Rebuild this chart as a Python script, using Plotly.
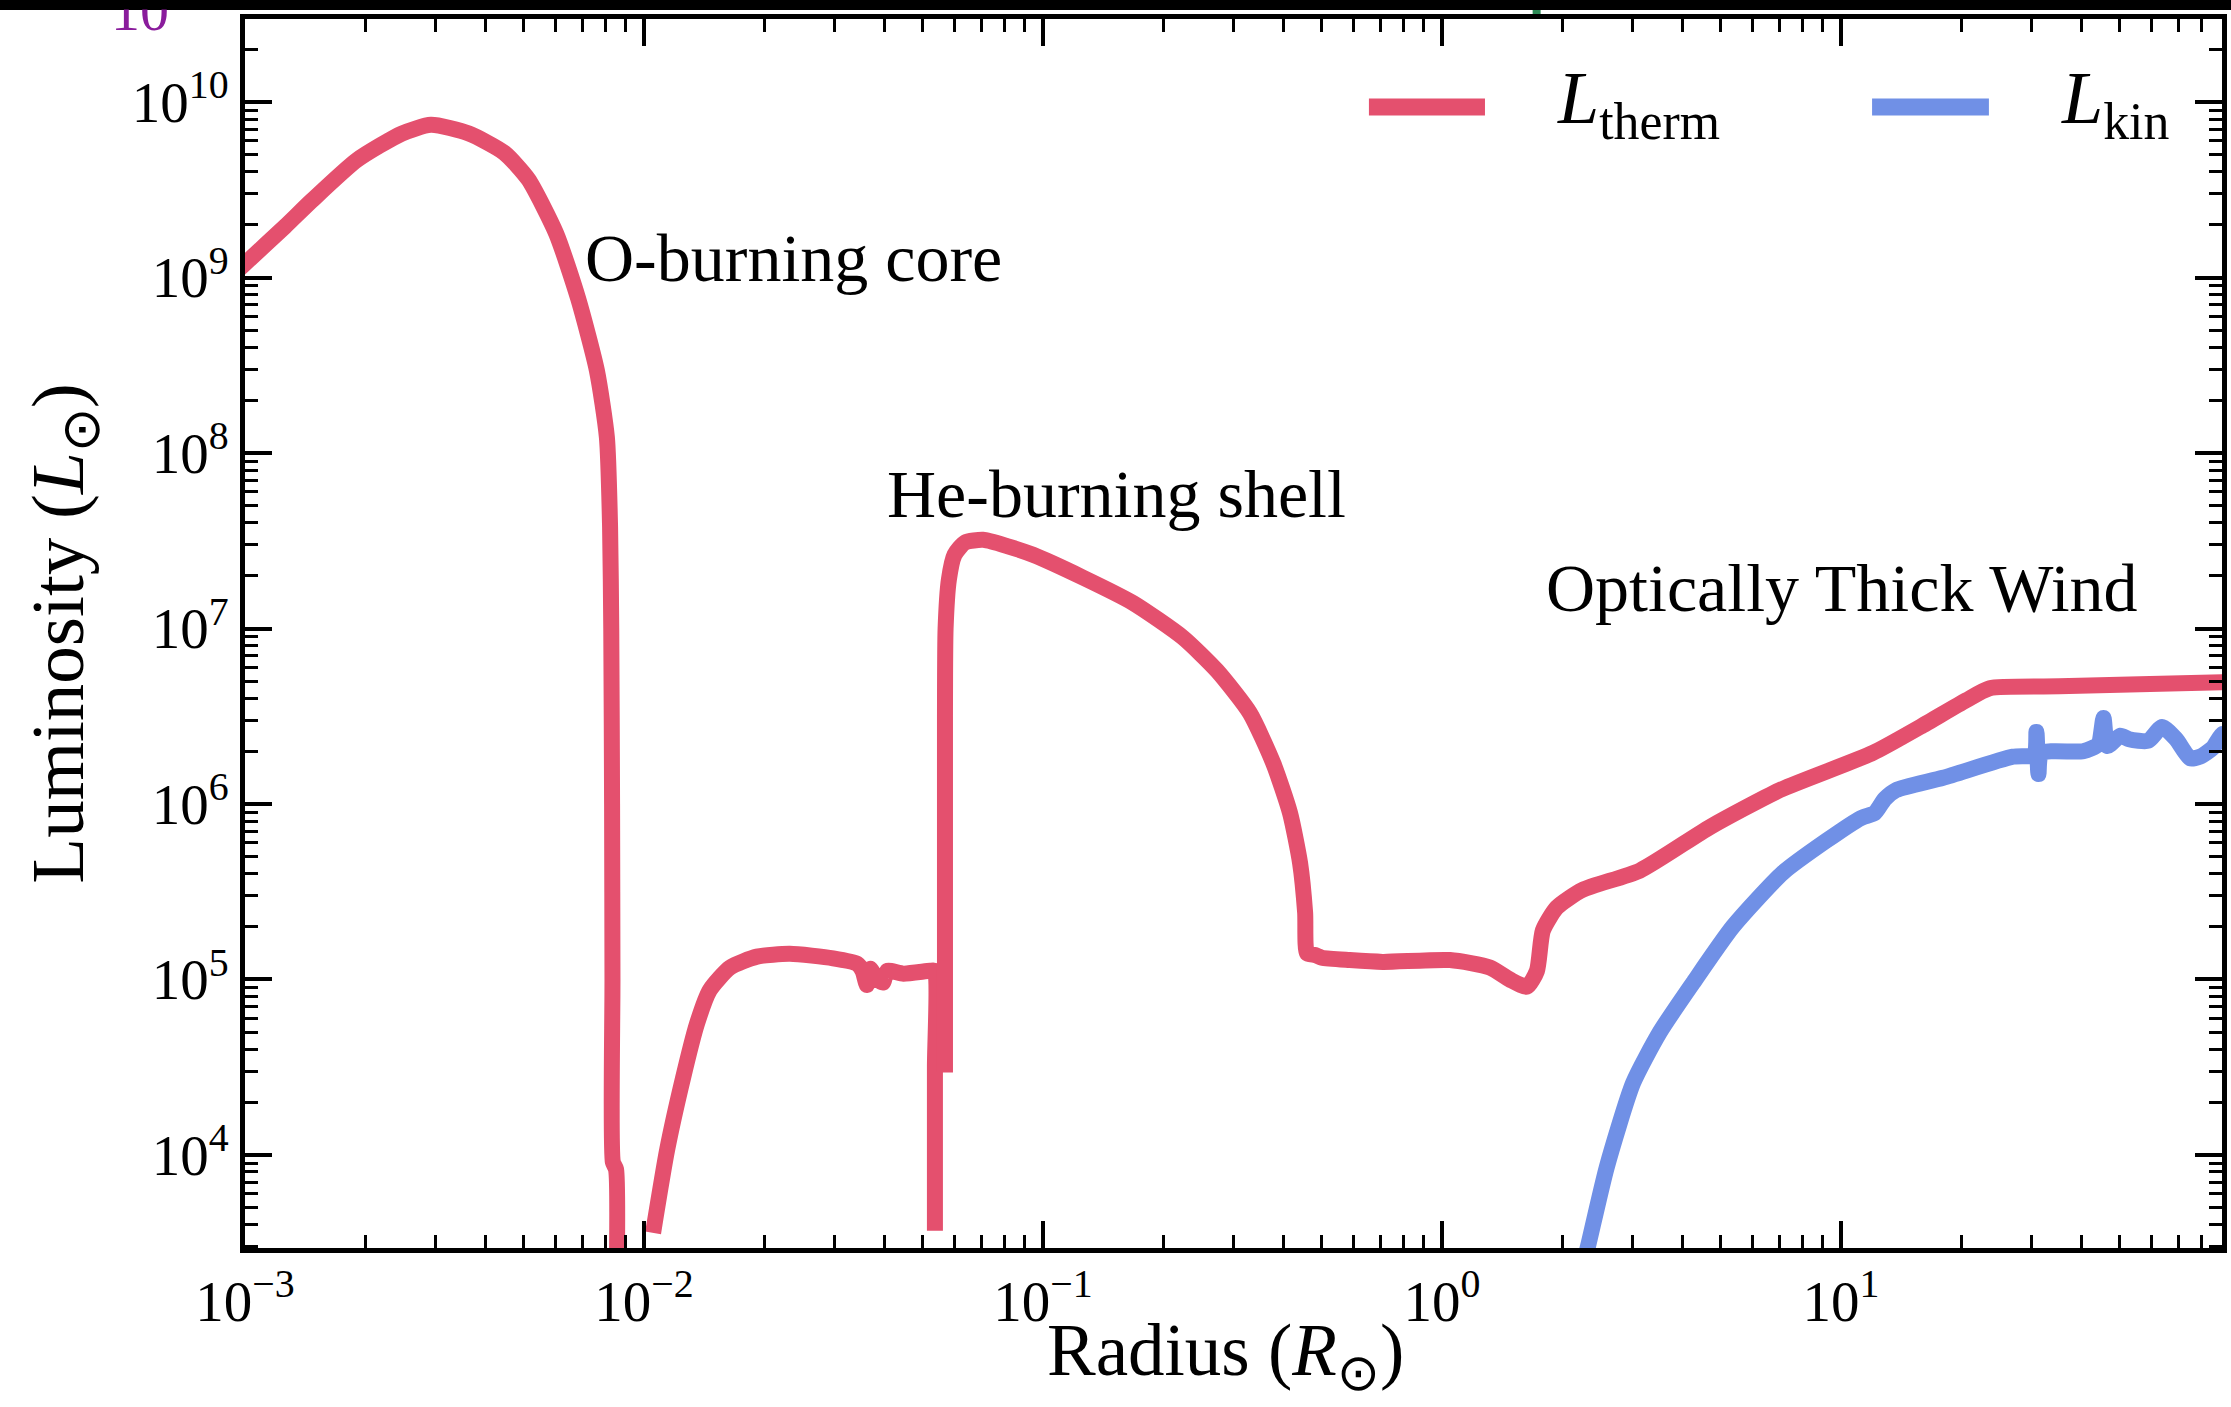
import plotly.graph_objects as go

# ---------------- data ----------------
# Thermal luminosity: O-burning core, inner plateau, He-burning shell + envelope/wind
core_radius = [9.0e-4, 1.0e-3, 1.259e-3, 1.472e-3, 1.910e-3, 2.472e-3, 2.924e-3, 3.639e-3,
               4.467e-3, 5.129e-3, 6.026e-3, 6.839e-3, 7.621e-3, 8.072e-3, 8.222e-3,
               8.279e-3, 8.318e-3, 8.337e-3, 8.356e-3, 8.51e-3, 8.51e-3]
core_lum = [9.6e8, 1.20e9, 1.95e9, 2.75e9, 4.68e9, 6.61e9, 7.41e9, 6.61e9,
            5.13e9, 3.63e9, 1.78e9, 7.59e8, 2.95e8, 1.23e8, 3.80e7,
            1.0e7, 1.0e6, 1.0e5, 9.1e3, 8.3e3, 1.0e3]

inner_radius = [1.054e-2, 1.143e-2, 1.253e-2, 1.358e-2, 1.462e-2, 1.644e-2, 1.919e-2,
                2.32e-2, 2.98e-2, 3.42e-2, 3.53e-2, 3.62e-2, 3.69e-2, 3.82e-2, 3.97e-2,
                4.07e-2, 4.47e-2, 5.21e-2, 5.36e-2, 5.36e-2, 5.36e-2]
inner_lum = [3.6e3, 1.07e4, 2.75e4, 5.6e4, 8.7e4, 1.17e5, 1.35e5,
             1.40e5, 1.32e5, 1.23e5, 1.12e5, 9.3e4, 1.15e5, 1.02e5, 9.6e4,
             1.12e5, 1.08e5, 1.12e5, 1.12e5, 3.2e4, 3.7e3]

shell_radius = [5.68e-2, 5.68e-2, 5.70e-2, 5.81e-2, 6.0e-2, 6.38e-2, 7.08e-2, 8.13e-2,
                9.44e-2, 0.126, 0.168, 0.224, 0.273, 0.330, 0.378, 0.416, 0.441, 0.454,
                0.459, 0.48, 0.50, 0.587, 0.711, 1.047, 1.318, 1.479, 1.633, 1.73, 1.79,
                1.94, 2.25, 3.13, 4.70, 7.03, 12.0, 15.8, 20.6, 23.6, 35.2, 91.2, 97.7]
shell_lum = [2.95e4, 3.16e6, 1.0e7, 1.9e7, 2.63e7, 3.09e7, 3.2e7, 2.95e7,
             2.63e7, 1.95e7, 1.40e7, 8.9e6, 5.75e6, 3.3e6, 1.7e6, 8.9e5, 4.6e5, 2.4e5,
             1.41e5, 1.38e5, 1.33e5, 1.29e5, 1.26e5, 1.29e5, 1.17e5, 1.0e5, 9.1e4, 1.12e5, 1.9e5,
             2.57e5, 3.24e5, 4.17e5, 7.4e5, 1.2e6, 1.95e6, 2.75e6, 3.9e6, 4.57e6, 4.68e6, 4.95e6, 4.97e6]

# Kinetic luminosity of the optically thick wind
kin_radius = [2.10, 2.168, 2.323, 2.588, 3.013, 3.516, 4.256, 5.358, 7.161, 9.183, 11.22,
              12.16, 12.88, 13.74, 18.03, 26.98, 30.55, 30.90, 31.26, 31.77, 40.46, 44.16,
              45.50, 46.56, 50.12, 52.72, 58.88, 63.83, 69.18, 74.99, 79.43, 85.51, 90.57, 97.0]
kin_lum = [1.0e3, 1.585e3, 3.02e3, 8.51e3, 2.57e4, 5.01e4, 9.55e4, 2.0e5, 4.07e5, 6.17e5, 8.32e5,
           8.91e5, 1.07e6, 1.20e6, 1.41e6, 1.86e6, 1.91e6, 2.57e6, 1.48e6, 1.95e6, 2.0e6, 2.19e6,
           3.09e6, 2.14e6, 2.45e6, 2.34e6, 2.29e6, 2.75e6, 2.34e6, 1.82e6, 1.86e6, 2.09e6, 2.51e6, 2.4e6]

x_tickvals = [1e-3, 1e-2, 1e-1, 1e0, 1e1]
x_ticktext = ["10<sup>\u22123</sup>", "10<sup>\u22122</sup>", "10<sup>\u22121</sup>",
              "10<sup>0</sup>", "10<sup>1</sup>"]
y_tickvals = [1e4, 1e5, 1e6, 1e7, 1e8, 1e9, 1e10]
y_ticktext = ["10<sup>4</sup>", "10<sup>5</sup>", "10<sup>6</sup>", "10<sup>7</sup>",
              "10<sup>8</sup>", "10<sup>9</sup>", "10<sup>10</sup>"]

RED = "#e4506e"
BLUE = "#7090e6"
PURPLE = "#8a1c9c"
FONT = "Liberation Serif"
LW = 16

fig = go.Figure()
for seg_r, seg_l in [(core_radius, core_lum), (inner_radius, inner_lum), (shell_radius, shell_lum)]:
    fig.add_trace(go.Scatter(x=seg_r, y=seg_l, mode="lines",
                             line=dict(color=RED, width=LW, shape="spline", smoothing=0.6),
                             name="L_therm", showlegend=False))
fig.add_trace(go.Scatter(x=kin_radius, y=kin_lum, mode="lines",
                         line=dict(color=BLUE, width=LW, shape="spline", smoothing=0.6),
                         name="L_kin", showlegend=False))

minor_x = [m * 10.0 ** e for e in range(-3, 2) for m in range(2, 10)]
minor_y = [m * 10.0 ** e for e in range(3, 11) for m in range(2, 10)]

axis_common = dict(
    type="log", showline=True, linewidth=5, linecolor="black", mirror="allticks",
    ticks="inside", ticklen=27, tickwidth=4, tickcolor="black",
    showgrid=False, zeroline=False, automargin=False,
    tickfont=dict(family=FONT, size=57, color="black"),
)

fig.update_xaxes(
    **axis_common, range=[-3, 1.955], tickmode="array",
    tickvals=x_tickvals, ticktext=x_ticktext,
    minor=dict(tickmode="array", tickvals=minor_x, ticks="inside", ticklen=13,
               tickwidth=3, tickcolor="black", showgrid=False),
)
fig.update_yaxes(
    **axis_common, range=[3.47, 10.473], tickmode="array",
    tickvals=y_tickvals, ticktext=y_ticktext,
    minor=dict(tickmode="array", tickvals=minor_y, ticks="inside", ticklen=13,
               tickwidth=3, tickcolor="black", showgrid=False),
    title=dict(text="Luminosity (<i>L</i><sub>\u2299</sub>)",
               font=dict(family=FONT, size=75, color="black"), standoff=25),
)

label_font = dict(family=FONT, size=68, color="black")
legend_font = dict(family=FONT, size=74, color="black")
annotations = [
    # x-axis title, set a little below the tick labels
    dict(x=0.496, y=-0.1265, xref="paper", yref="paper",
         text="Radius (<i>R</i><sub>\u2299</sub>)", showarrow=False,
         xanchor="center", yanchor="bottom", font=dict(family=FONT, size=73, color="black")),
    dict(x=-2.153, y=9.111, xref="x", yref="y", text="O-burning core",
         showarrow=False, xanchor="left", yanchor="middle", font=label_font),
    dict(x=-1.396, y=7.766, xref="x", yref="y", text="He-burning shell",
         showarrow=False, xanchor="left", yanchor="middle", font=label_font),
    dict(x=0.256, y=7.231, xref="x", yref="y", text="Optically Thick Wind",
         showarrow=False, xanchor="left", yanchor="middle", font=label_font),
    # legend labels
    dict(x=0.6626, y=0.9315, xref="paper", yref="paper",
         text="<i>L</i><sub>therm</sub>", showarrow=False, xanchor="left", yanchor="middle",
         font=legend_font),
    dict(x=0.9174, y=0.9315, xref="paper", yref="paper",
         text="<i>L</i><sub>kin</sub>", showarrow=False, xanchor="left", yanchor="middle",
         font=legend_font),
    # tick label of the neighbouring panel above, partly hidden under the top strip
    dict(x=-0.0531, y=0.979, xref="paper", yref="paper", text="10", showarrow=False,
         xanchor="center", yanchor="bottom", font=dict(family=FONT, size=58, color=PURPLE)),
    # piece of the top strip laid over that label
    dict(x=-0.0531, y=1.00732, xref="paper", yref="paper", text=" ", showarrow=False,
         xanchor="center", yanchor="bottom", width=140, height=24, bgcolor="black",
         borderpad=0, font=dict(size=4)),
]

shapes = [
    # legend samples
    dict(type="line", xref="paper", yref="paper", x0=0.5685, x1=0.6272, y0=0.9284, y1=0.9284,
         line=dict(color=RED, width=17)),
    dict(type="line", xref="paper", yref="paper", x0=0.8230, x1=0.8821, y0=0.9284, y1=0.9284,
         line=dict(color=BLUE, width=17)),
    # dark strip along the top edge of the figure
    dict(type="rect", xref="paper", yref="paper", ysizemode="pixel", yanchor=1.0,
         x0=-0.13, x1=1.01, y0=9, y1=30, fillcolor="black", line=dict(width=0), layer="above"),
    # small green fleck just under the strip
    dict(type="rect", xref="paper", yref="paper", xsizemode="pixel", ysizemode="pixel",
         xanchor=0.6513, yanchor=1.0, x0=0, x1=8, y0=5, y1=9,
         fillcolor="#2e8b57", line=dict(width=0), layer="above"),
]

fig.update_layout(
    width=2231, height=1407,
    margin=dict(l=245, r=9, t=19, b=159),
    paper_bgcolor="white", plot_bgcolor="white",
    showlegend=False,
    annotations=annotations, shapes=shapes,
)

fig.write_html("out.html")
